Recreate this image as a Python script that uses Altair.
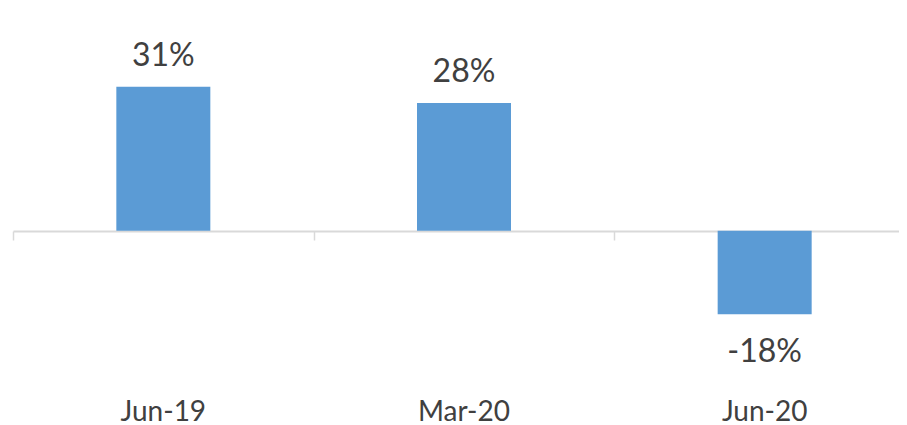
import altair as alt
import pandas as pd

categories = ["Jun-19", "Mar-20", "Jun-20"]
values = [31, 27.5, -18]
labels = ["31%", "28%", "-18%"]

df = pd.DataFrame({"period": categories, "value": values, "label": labels})

x_scale = alt.Scale(range=[0, 902], paddingInner=0, paddingOuter=0)
y_enc = alt.Y("value:Q", scale=alt.Scale(domain=[-30, 40], nice=False, zero=True), axis=None)

bars = alt.Chart(df).mark_bar(color="#5B9BD5", size=94).encode(
    x=alt.X("period:N", sort=categories, scale=x_scale,
            axis=alt.Axis(title=None, domain=False, ticks=False, tickSize=0, grid=False,
                          labelAngle=0, labelFont="Lato", labelFontSize=28,
                          labelColor="#404040", labelPadding=50,
                          labelBaseline="alphabetic")),
    y=y_enc,
)

pos_text = alt.Chart(df).transform_filter("datum.value >= 0").mark_text(
    font="Lato", fontSize=32, color="#404040", baseline="alphabetic", dy=-21
).encode(
    x=alt.X("period:N", sort=categories, scale=x_scale,
            axis=alt.Axis(title=None, labels=False, grid=False, orient="bottom",
                          offset=-139, domain=True, domainColor="#d9d9d9", domainWidth=2,
                          ticks=True, tickBand="extent", tickColor="#d9d9d9",
                          tickSize=9, tickWidth=1.5)),
    y=y_enc,
    text="label:N",
)

neg_text = alt.Chart(df).transform_filter("datum.value < 0").mark_text(
    font="Lato", fontSize=32, color="#404040", baseline="alphabetic", dy=48
).encode(
    x=alt.X("period:N", sort=categories, scale=x_scale, axis=None),
    y=y_enc,
    text="label:N",
)

chart = alt.layer(bars, pos_text, neg_text).resolve_axis(x="independent").properties(
    width=886,
    height=325,
    autosize=alt.AutoSizeParams(type="none"),
    padding={"left": 5, "top": 37, "right": 0, "bottom": 55},
    background="white",
).configure_view(stroke=None)

chart.save("out.html", embed_options={"renderer": "svg", "actions": False})
